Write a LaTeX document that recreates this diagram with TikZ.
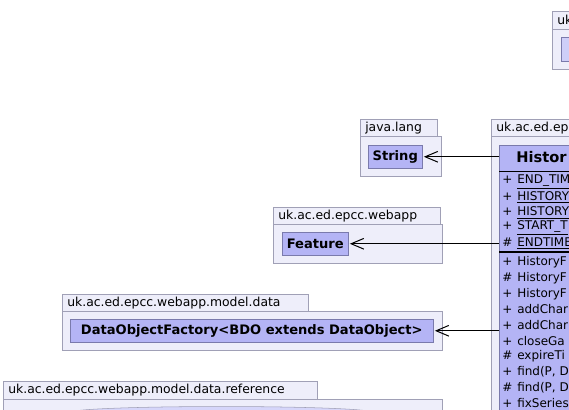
\documentclass[tikz,border=0pt]{standalone}
\usepackage{fontspec}
\setmainfont{DejaVu Sans}
\usetikzlibrary{arrows.meta,shapes.geometric}

\definecolor{pkgfill}{RGB}{238,238,250}
\definecolor{pkgline}{RGB}{160,160,182}
\definecolor{clsfill}{RGB}{180,180,245}
\definecolor{clsline}{RGB}{122,122,172}

\begin{document}
\begin{tikzpicture}[x=0.75pt, y=-0.75pt,
    pkgtab/.style={draw=pkgline, fill=pkgfill, anchor=north west, inner xsep=3.75pt, inner ysep=0pt,
        minimum height=12.75pt, align=left, text width=#1, font=\fontsize{9.3}{11}\selectfont},
    pkgbody/.style={draw=pkgline, fill=pkgfill, anchor=north west, inner sep=0pt},
    cls/.style={draw=clsline, fill=clsfill, anchor=north west, inner sep=0pt,
        font=\bfseries\fontsize{9.8}{11}\selectfont},
    member/.style={anchor=west, inner sep=0pt, font=\fontsize{9}{10}\selectfont},
    dep/.style={draw=black, line width=0.75pt, -{Straight Barb[length=9.5pt,width=8pt]}, shorten >=1pt}]
    \path[fill=white, use as bounding box] (0,0) rectangle (569,410);

    % package cut at the top right
    \node[pkgbody, minimum width=30pt, minimum height=30pt] (topbody) at (552,29) {};
    \node[pkgtab=22.5pt, minimum height=13.5pt] (toptab) at (552,11) {uk};
    \node[cls, fill=clsfill!65, minimum width=22.5pt, minimum height=18pt] (topcls) at (561,37) {};

    % java.lang
    \node[pkgbody, minimum width=60.75pt, minimum height=30pt] (langbody) at (360,136) {};
    \node[pkgtab=50.25pt] (langtab) at (360,119) {java.lang};
    \node[cls, minimum width=40.5pt, minimum height=17.25pt] (str) at (368,145) {String};

    % uk.ac.ed.epcc.webapp
    \node[pkgbody, minimum width=126.75pt, minimum height=29.25pt] (appbody) at (273,224) {};
    \node[pkgtab=117.75pt] (apptab) at (273,207) {uk.ac.ed.epcc.webapp};
    \node[cls, minimum width=49.5pt, minimum height=17.25pt] (feat) at (282,232) {Feature};

    % uk.ac.ed.epcc.webapp.model.data
    \node[pkgbody, minimum width=285pt, minimum height=29.25pt] (databody) at (62,311) {};
    \node[pkgtab=177pt] (datatab) at (62,294) {uk.ac.ed.epcc.webapp.model.data};
    \node[cls, minimum width=272.25pt, minimum height=17.25pt] (dof) at (70,319) {DataObjectFactory<BDO extends DataObject>};

    % uk.ac.ed.epcc.webapp.model.data.reference
    \node[pkgbody, minimum width=329.25pt, minimum height=22.5pt] (refbody) at (3,399) {};
    \node[pkgtab=228pt, minimum height=13.5pt] (reftab) at (3,381) {uk.ac.ed.epcc.webapp.model.data.reference};
    \node[ellipse, draw=pkgline, fill=clsfill!55, minimum width=225pt, minimum height=8.5pt, inner sep=0pt] (refcls) at (221.5,412.2) {};

    % history package
    \node[pkgbody, minimum width=75pt, minimum height=225pt] (histbody) at (491,136) {};
    \node[pkgtab=67.5pt] (histtab) at (491,119) {uk.ac.ed.ep};
    \node[cls, minimum width=75pt, minimum height=225pt] (hist) at (499,145) {};
    \node[anchor=west, inner sep=0pt, font=\bfseries\fontsize{11}{12}\selectfont] (histname) at (516,157.5) {Histor};
    \draw[black, line width=0.75pt] (hist.north west |- 0,171.5) -- (hist.north east |- 0,171.5);
    \draw[black, line width=1.5pt] (hist.north west |- 0,252.5) -- (hist.north east |- 0,252.5);

    % attributes
    \node[member] (a1) at (502,181.5) {\makebox[1.25em][l]{+}\underline{END\_TIM}};
    \node[member] (a2) at (502,197) {\makebox[1.25em][l]{+}\underline{HISTORY}};
    \node[member] (a3) at (502,212.7) {\makebox[1.25em][l]{+}\underline{HISTORY}};
    \node[member] (a4) at (502,228) {\makebox[1.25em][l]{+}\underline{START\_T}};
    \node[member] (a5) at (502,243.3) {\makebox[1.25em][l]{\#}\underline{ENDTIME}};

    % operations
    \node[member] (m1) at (502,262.3) {\makebox[1.25em][l]{+}HistoryF};
    \node[member] (m2) at (502,278) {\makebox[1.25em][l]{\#}HistoryF};
    \node[member] (m3) at (502,293.7) {\makebox[1.25em][l]{+}HistoryF};
    \node[member] (m4) at (502,309.4) {\makebox[1.25em][l]{+}addChar};
    \node[member] (m5) at (502,325) {\makebox[1.25em][l]{+}addChar};
    \node[member] (m6) at (502,340.7) {\makebox[1.25em][l]{+}closeGa};
    \node[member] (m7) at (502,356.4) {\makebox[1.25em][l]{\#}expireTi};
    \node[member] (m8) at (502,372) {\makebox[1.25em][l]{+}find(P, D};
    \node[member] (m9) at (502,387.7) {\makebox[1.25em][l]{\#}find(P, D};
    \node[member] (m10) at (502,403.4) {\makebox[1.25em][l]{+}fixSeries};

    % dependencies
    \draw[dep] (hist.west |- str.east) -- (str.east);
    \draw[dep] (hist.west |- feat.east) -- (feat.east);
    \draw[dep] (hist.west |- dof.east) -- (dof.east);
\end{tikzpicture}
\end{document}
